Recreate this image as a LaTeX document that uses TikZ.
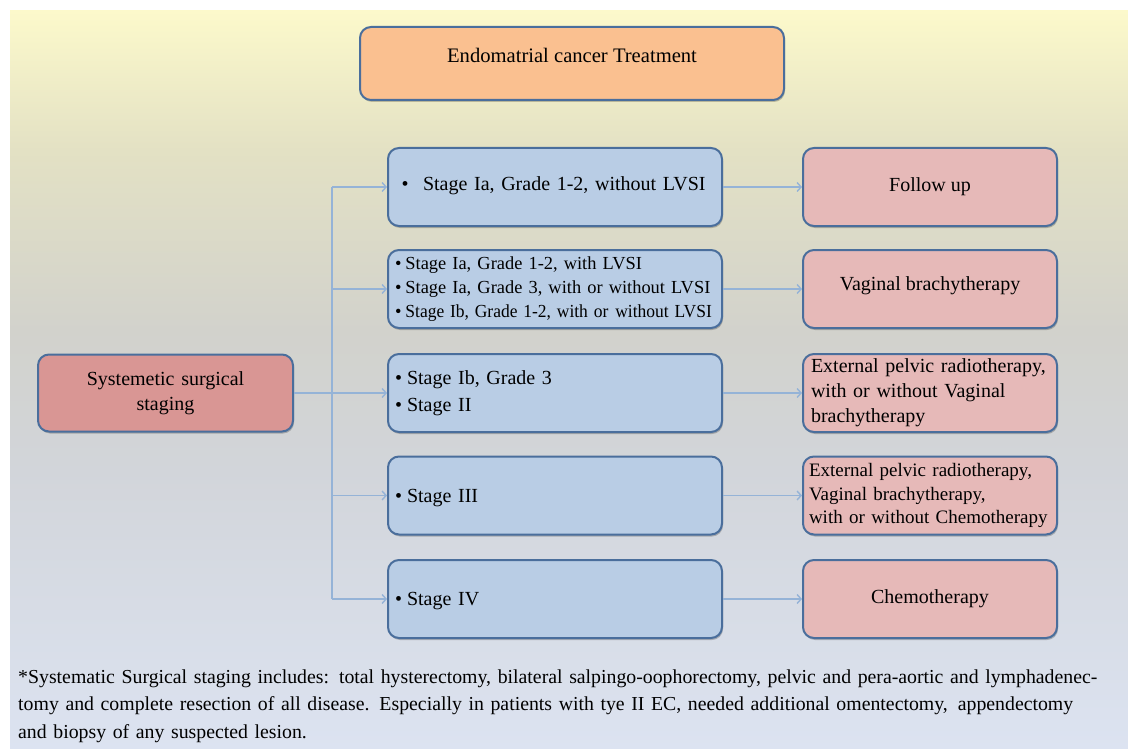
\documentclass[tikz,border=0pt]{standalone}
\usepackage{graphicx}
\usepackage{fontspec}
\setmainfont{Liberation Serif}
\usetikzlibrary{arrows.meta,shadows}
\definecolor{titlefill}{HTML}{FAC090}
\definecolor{bluefill}{HTML}{B9CDE5}
\definecolor{pinkfill}{HTML}{E6B9B8}
\definecolor{leftfill}{HTML}{D99694}
\definecolor{boxline}{HTML}{4A6E9C}
\definecolor{arrowc}{HTML}{95B3D7}
\definecolor{bgA}{HTML}{FCF9CB}
\definecolor{bgB}{HTML}{E3E1C4}
\definecolor{bgC}{HTML}{D2D2CC}
\definecolor{bgD}{HTML}{D2D5DA}
\definecolor{bgE}{HTML}{DCE3F1}
\begin{document}
\begin{tikzpicture}[x=1pt,y=-1pt,
  box/.style={rectangle, rounded corners=11pt, draw=boxline, line width=2pt,
    inner ysep=0pt, font=\fontsize{20}{24}\selectfont,
    drop shadow={shadow xshift=1pt, shadow yshift=-2pt, opacity=0.22, fill=black}},
  stagebox/.style={box, fill=bluefill, minimum width=334pt, minimum height=78pt,
    inner xsep=7pt, text width=320pt, align=left},
  treatbox/.style={box, fill=pinkfill, minimum width=254pt, minimum height=78pt},
  arr/.style={draw=arrowc, line width=1.8pt,
    -{Straight Barb[length=4pt,width=9pt,line width=1.4pt]}},
  conn/.style={draw=arrowc, line width=1.8pt},
  foot/.style={inner sep=0pt, text width=1110pt, align=left,
    font=\fontsize{19.8}{27.5}\selectfont}
  ]
\useasboundingbox (0,0) rectangle (1128,749);
\fill[white] (0,0) rectangle (1128,749);
% background gradient
\shade[top color=bgA, bottom color=bgB] (10,11) rectangle (1128,150.5);
\shade[top color=bgB, bottom color=bgC] (10,150) rectangle (1128,330.5);
\shade[top color=bgC, bottom color=bgD] (10,330) rectangle (1128,470.5);
\shade[top color=bgD, bottom color=bgE] (10,470) rectangle (1128,749);

% title
\node[box, fill=titlefill, minimum width=424pt, minimum height=73pt,
  font=\fontsize{20.6}{24}\selectfont,
  text height=14pt, text depth=15pt] (title) at (572,63.5) {Endomatrial cancer Treatment};

% left node
\node[box, fill=leftfill, minimum width=255pt, minimum height=77pt,
  text width=230pt, align=center, font=\fontsize{20}{25}\selectfont] (L) at (165.5,393)
  {Systemetic surgical\\staging};

% stage boxes
\node[stagebox, inner xsep=13.5pt, text width=307pt, text height=13.5pt, text depth=7.5pt] (B1) at (555,187)
  {\mbox{\textbullet\hspace{14.5pt}Stage Ia, Grade 1-2, without LVSI}};
\node[stagebox, font=\fontsize{18.4}{24}\selectfont] (B2) at (555,289)
  {\mbox{\textbullet\hspace{4pt}Stage Ia, Grade 1-2, with LVSI}\\
   \mbox{\textbullet\hspace{4pt}Stage Ia, Grade 3, with or without LVSI}\\
   \mbox{\textbullet\hspace{4pt}\scalebox{0.95}[1]{Stage Ib, Grade 1-2, with or\hspace{0.4em}without LVSI}}};
\node[stagebox, font=\fontsize{20}{27}\selectfont] (B3) at (555,393)
  {\textbullet\hspace{5pt}Stage Ib, Grade 3\\
   \textbullet\hspace{5pt}Stage II};
\node[stagebox, text height=17.6pt, text depth=4.4pt] (B4) at (555,495.5)
  {\textbullet\hspace{5pt}Stage III};
\node[stagebox, text height=17.6pt, text depth=4.4pt] (B5) at (555,599)
  {\textbullet\hspace{5pt}Stage IV};

% treatment boxes
\node[treatbox] (P1) at (930,187) {Follow up};
\node[treatbox, text height=14pt, text depth=11pt] (P2) at (930,289) {Vaginal brachytherapy};
\node[treatbox, inner xsep=8pt, text width=238pt, align=left,
  font=\fontsize{20}{25}\selectfont] (P3) at (930,393)
  {\mbox{External pelvic radiotherapy,}\\\mbox{with or without Vaginal}\\\mbox{brachytherapy}};
\node[treatbox, inner xsep=6pt, text width=242pt, align=left,
  font=\fontsize{19}{23.5}\selectfont] (P4) at (930,495.5)
  {\mbox{External pelvic radiotherapy,}\\\mbox{Vaginal brachytherapy,}\\\mbox{with or without Chemotherapy}};
\node[treatbox] (P5) at (930,599) {Chemotherapy};

% trunk
\coordinate (t1) at (332,187);
\coordinate (t2) at (332,289);
\coordinate (t4) at (332,495.5);
\coordinate (t5) at (332,599);
\draw[conn] (t1) -- (t5);
\draw[arr] (t1) -- (B1.west);
\draw[arr] (t2) -- (B2.west);
\draw[arr] (L.east) -- (B3.west);
\draw[arr] (t4) -- (B4.west);
\draw[arr] (t5) -- (B5.west);

% stage -> treatment
\draw[arr] (B1.east) -- (P1.west);
\draw[arr] (B2.east) -- (P2.west);
\draw[arr] (B3.east) -- (P3.west);
\draw[arr] (B4.east) -- (P4.west);
\draw[arr] (B5.east) -- (P5.west);

% footnote
\node[foot, anchor=base west] (note) at (18,683)
  {\mbox{*Systematic Surgical staging includes: total hysterectomy, bilateral salpingo-oophorectomy, pelvic and pera-aortic and lymphadenec-}\\
   \mbox{tomy and complete resection of all disease. Especially in patients with tye II EC, needed additional omentectomy,\hspace{0.5em}appendectomy}\\
   \mbox{and biopsy of any suspected lesion.}};
\end{tikzpicture}
\end{document}
